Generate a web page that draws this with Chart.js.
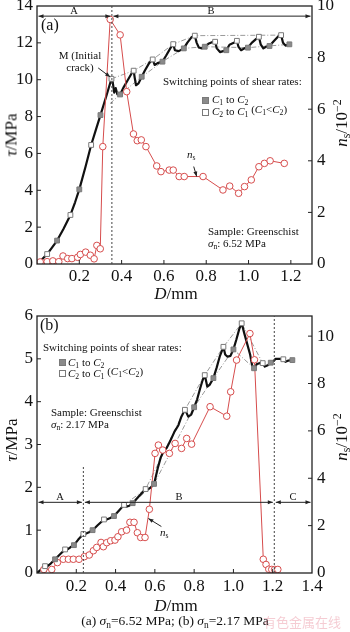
<!DOCTYPE html>
<html>
<head>
<meta charset="utf-8">
<script src="https://cdn.jsdelivr.net/npm/chart.js@4"></script>
<style>
  body { margin: 0; background: #fff; }
  #wrap { position: relative; width: 350px; height: 632px; overflow: hidden;
          font-family: "Liberation Serif", serif; color: #111; }
  canvas { position: absolute; left: 0; }
  .t { position: absolute; white-space: nowrap; line-height: 1; }
  .cc { transform: translate(-50%, -50%); }
  .rot { transform: translate(-50%, -50%) rotate(-90deg); }
  sub { font-size: 70%; vertical-align: -0.28em; line-height: 0; }
  sup { font-size: 70%; vertical-align: 0.5em; line-height: 0; }
  .sq { position: absolute; width: 5px; height: 5px; border: 1px solid #7a7a7a; }
</style>
</head>
<body>
<div id="wrap">
  <canvas id="chartA" width="350" height="300" style="top:0"></canvas>
  <canvas id="chartB" width="350" height="312" style="top:300px"></canvas>

  <!-- panel (a) text -->
  <div class="t" style="left:41px;top:17px;font-size:16px">(a)</div>
  <div class="t" style="left:80px;top:50px;font-size:11px;line-height:11.5px;text-align:center;transform:translateX(-50%)">M (Initial<br>crack)</div>
  <div class="t" style="left:163px;top:76px;font-size:11px">Switching points of shear rates:</div>
  <div class="sq" style="left:202px;top:97px;background:#8a8a8a"></div>
  <div class="t" style="left:212px;top:94px;font-size:11px"><i>C</i><sub>1</sub> to <i>C</i><sub>2</sub></div>
  <div class="sq" style="left:202px;top:109px;background:#fff"></div>
  <div class="t" style="left:212px;top:106px;font-size:11px"><i>C</i><sub>2</sub> to <i>C</i><sub>1</sub> <span style="position:relative;top:-2px">(<i>C</i><sub>1</sub>&lt;<i>C</i><sub>2</sub>)</span></div>
  <div class="t" style="left:187px;top:149px;font-size:11px"><i>n</i><sub>s</sub></div>
  <div class="t" style="left:208px;top:226px;font-size:11px">Sample: Greenschist</div>
  <div class="t" style="left:208px;top:238px;font-size:11px"><i>σ</i><sub>n</sub>: 6.52 MPa</div>
  <div class="t cc" style="left:74px;top:11px;font-size:10.5px">A</div>
  <div class="t cc" style="left:211px;top:11px;font-size:10.5px">B</div>
  <div class="t cc" style="left:176px;top:293px;font-size:17px"><i>D</i>/mm</div>
  <div class="t rot" style="left:11px;top:135px;font-size:17px"><i>τ</i>/MPa</div>
  <div class="t rot" style="left:341px;top:123px;font-size:17px"><i>n</i><sub>s</sub>/10<sup>−2</sup></div>

  <!-- panel (b) text -->
  <div class="t" style="left:40px;top:317px;font-size:16px">(b)</div>
  <div class="t" style="left:43px;top:342px;font-size:11px">Switching points of shear rates:</div>
  <div class="sq" style="left:59px;top:359px;background:#8a8a8a"></div>
  <div class="t" style="left:68px;top:357px;font-size:11px"><i>C</i><sub>1</sub> to <i>C</i><sub>2</sub></div>
  <div class="sq" style="left:59px;top:370px;background:#fff"></div>
  <div class="t" style="left:68px;top:368px;font-size:11px"><i>C</i><sub>2</sub> to <i>C</i><sub>1</sub> <span style="position:relative;top:-2px">(<i>C</i><sub>1</sub>&lt;<i>C</i><sub>2</sub>)</span></div>
  <div class="t" style="left:51px;top:407px;font-size:11px">Sample: Greenschist</div>
  <div class="t" style="left:51px;top:419px;font-size:11px"><i>σ</i><sub>n</sub>: 2.17 MPa</div>
  <div class="t" style="left:160px;top:527px;font-size:11px"><i>n</i><sub>s</sub></div>
  <div class="t cc" style="left:60px;top:497px;font-size:10.5px">A</div>
  <div class="t cc" style="left:179px;top:497px;font-size:10.5px">B</div>
  <div class="t cc" style="left:293px;top:497px;font-size:10.5px">C</div>
  <div class="t cc" style="left:176px;top:605px;font-size:17px"><i>D</i>/mm</div>
  <div class="t rot" style="left:11px;top:440px;font-size:17px"><i>τ</i>/MPa</div>
  <div class="t rot" style="left:341px;top:437px;font-size:17px"><i>n</i><sub>s</sub>/10<sup>−2</sup></div>

  <div class="t cc" style="left:175px;top:621px;font-size:13.5px">(a) <i>σ</i><sub>n</sub>=6.52 MPa; (b) <i>σ</i><sub>n</sub>=2.17 MPa</div>
  <div class="t" style="left:263px;top:615px;font-size:13px;color:rgba(225,110,130,0.35);font-family:'Noto Sans CJK SC'">有色金属在线</div>
</div>

<script>
// ---- panel (a): sigma_n = 6.52 MPa ----
const tauD_a = [0, 0.02, 0.048, 0.07, 0.095, 0.125, 0.158, 0.18, 0.2, 0.23,
  0.256, 0.28, 0.3, 0.33, 0.352, 0.357, 0.365, 0.372, 0.38, 0.393,
  0.41, 0.43, 0.445, 0.457, 0.462, 0.468, 0.48, 0.495, 0.51, 0.53,
  0.547, 0.556, 0.57, 0.593, 0.61, 0.63, 0.644, 0.652, 0.67, 0.694,
  0.71, 0.73, 0.746, 0.755, 0.765, 0.78, 0.793, 0.81, 0.83, 0.842,
  0.85, 0.865, 0.88, 0.895, 0.91, 0.93, 0.945, 0.952, 0.965, 0.98,
  0.997, 1.015, 1.035, 1.049, 1.058, 1.07, 1.085, 1.099, 1.12, 1.14,
  1.154, 1.163, 1.175, 1.193];
const tauV_a = [0, 0.2, 0.54, 0.88, 1.27, 1.9, 2.66, 3.35, 4.05, 5.3,
  6.46, 7.35, 8.08, 9.2, 10.05, 9.95, 9.3, 9.55, 9.2, 9.2,
  9.6, 10.0, 10.3, 10.49, 10.1, 9.7, 9.8, 10.16, 10.5, 10.9,
  11.1, 10.8, 10.9, 10.98, 11.3, 11.7, 11.93, 11.6, 11.55, 11.7,
  12.0, 12.3, 12.39, 12.0, 11.75, 11.7, 11.79, 11.95, 12.05, 12.06,
  11.7, 11.5, 11.55, 11.6, 11.9, 12.0, 12.11, 11.8, 11.6, 11.7,
  11.74, 12.0, 12.2, 12.33, 11.9, 11.7, 11.8, 11.83, 12.1, 12.35,
  12.42, 12.0, 11.85, 11.92];
// switching points C1 -> C2 (grey) and C2 -> C1 (white)
const c12D_a = [0.095, 0.2, 0.3, 0.393, 0.495, 0.593, 0.694, 0.793, 0.895, 0.997, 1.099, 1.193];
const c12T_a = [1.27, 4.05, 8.08, 9.2, 10.16, 10.98, 11.7, 11.79, 11.6, 11.74, 11.83, 11.92];
const c21D_a = [0.048, 0.158, 0.256, 0.352, 0.457, 0.547, 0.644, 0.746, 0.842, 0.945, 1.049, 1.154];
const c21T_a = [0.54, 2.66, 6.46, 10.05, 10.49, 11.1, 11.93, 12.39, 12.06, 12.11, 12.33, 12.42];
// dash-dot envelopes
const upD_a = [0.352, 0.457, 0.547, 0.644, 0.746, 1.154];
const upT_a = [10.05, 10.49, 11.1, 11.93, 12.39, 12.42];
const loD_a = [0.345, 0.393, 0.495, 0.593, 0.694, 0.793, 0.997, 1.193];
const loT_a = [8.7, 9.2, 10.16, 10.98, 11.7, 11.79, 11.74, 11.92];
// n_s (x 10^-2)
const nsD_a = [0.015, 0.048, 0.075, 0.103, 0.123, 0.145, 0.165, 0.192, 0.205, 0.23,
  0.252, 0.27, 0.283, 0.299, 0.311, 0.346, 0.393, 0.424, 0.456, 0.474,
  0.493, 0.515, 0.566, 0.586, 0.625, 0.644, 0.672, 0.696, 0.785, 0.879,
  0.911, 0.953, 0.981, 1.013, 1.049, 1.075, 1.102, 1.169];
const nsV_a = [0.08, 0.09, 0.12, 0.09, 0.31, 0.21, 0.21, 0.26, 0.37, 0.46,
  0.34, 0.2, 0.72, 0.59, 4.55, 9.48, 8.88, 6.68, 5.04, 4.78,
  4.81, 4.55, 3.80, 3.58, 3.64, 3.64, 3.39, 3.39, 3.39, 2.87,
  3.02, 2.74, 3.0, 3.26, 3.77, 3.90, 4.0, 3.90];

// ---- panel (b): sigma_n = 2.17 MPa ----
const tauD_b = [0, 0.041, 0.05, 0.07, 0.092, 0.12, 0.143, 0.155, 0.17, 0.188,
  0.21, 0.236, 0.25, 0.265, 0.283, 0.31, 0.341, 0.355, 0.37, 0.392,
  0.42, 0.443, 0.455, 0.47, 0.487, 0.52, 0.553, 0.565, 0.58, 0.596,
  0.615, 0.63, 0.645, 0.66, 0.68, 0.70, 0.72, 0.735, 0.753, 0.76,
  0.77, 0.785, 0.80, 0.815, 0.83, 0.843, 0.854, 0.86, 0.867, 0.88,
  0.898, 0.915, 0.93, 0.949, 0.958, 0.97, 0.985, 1.0, 1.015, 1.03,
  1.042, 1.055, 1.07, 1.085, 1.095, 1.105, 1.12, 1.135, 1.149, 1.16,
  1.175, 1.19, 1.205, 1.215, 1.235, 1.254, 1.265, 1.28, 1.30];
const tauV_b = [0, 0.16, 0.15, 0.22, 0.32, 0.45, 0.55, 0.55, 0.6, 0.65,
  0.78, 0.91, 0.92, 0.95, 1.0, 1.12, 1.25, 1.25, 1.28, 1.33,
  1.47, 1.59, 1.55, 1.57, 1.63, 1.8, 1.96, 1.95, 2.0, 2.08,
  2.45, 2.7, 2.85, 2.92, 3.1, 3.3, 3.45, 3.65, 3.81, 3.75,
  3.65, 3.7, 3.87, 4.05, 4.3, 4.5, 4.62, 4.5, 4.35, 4.4,
  4.55, 4.8, 5.05, 5.28, 5.1, 5.05, 5.07, 5.22, 5.45, 5.7,
  5.83, 5.6, 5.35, 5.1, 4.85, 4.78, 4.88, 4.9, 4.9, 4.82,
  4.85, 4.91, 4.95, 5.0, 5.0, 4.99, 4.93, 4.96, 4.97];
const c12D_b = [0.092, 0.188, 0.283, 0.392, 0.487, 0.596, 0.80, 0.898, 1.0, 1.105, 1.19, 1.30];
const c12T_b = [0.32, 0.65, 1.0, 1.33, 1.63, 2.08, 3.87, 4.55, 5.22, 4.78, 4.91, 4.97];
const c21D_b = [0.041, 0.143, 0.236, 0.341, 0.443, 0.553, 0.753, 0.854, 0.949, 1.042, 1.149, 1.254];
const c21T_b = [0.16, 0.55, 0.91, 1.25, 1.59, 1.96, 3.81, 4.62, 5.28, 5.83, 4.9, 4.99];
const upD_b = [0.443, 0.553, 0.753, 0.854, 0.949, 1.042, 1.149];
const upT_b = [1.59, 1.96, 3.81, 4.62, 5.28, 5.83, 4.9];
const loD_b = [0.487, 0.596, 0.80, 0.898, 1.0, 1.105];
const loT_b = [1.63, 2.08, 3.87, 4.55, 5.22, 4.78];
const nsD_b = [0.035, 0.075, 0.104, 0.134, 0.16, 0.185, 0.214, 0.241, 0.266, 0.287,
  0.304, 0.326, 0.338, 0.355, 0.375, 0.397, 0.412, 0.431, 0.456, 0.473,
  0.494, 0.511, 0.528, 0.55, 0.572, 0.601, 0.618, 0.64, 0.674, 0.703,
  0.736, 0.762, 0.787, 0.881, 0.966, 0.986, 1.016, 1.084, 1.107, 1.152,
  1.166, 1.18, 1.195, 1.21, 1.226];
const nsV_b = [0.15, 0.15, 0.44, 0.58, 0.58, 0.58, 0.58, 0.69, 0.76, 0.94,
  1.08, 1.29, 1.11, 1.28, 1.36, 1.39, 1.53, 1.74, 1.81, 2.14,
  2.14, 1.70, 1.50, 1.50, 2.69, 5.05, 5.40, 5.19, 5.05, 5.47,
  5.26, 5.68, 5.44, 7.02, 6.62, 7.65, 8.99, 10.11, 9.0, 0.58,
  0.36, 0.16, 0.15, 0.15, 0.15];

const RED = 'rgb(214, 76, 76)';
const tickFont = { family: 'Liberation Serif', size: 17 };

function pts(xs, ys) {
  return xs.map((v, i) => ({ x: v, y: ys[i] }));
}

function onStep(v, step) {
  const r = v / step;
  return Math.abs(r - Math.round(r)) < 1e-6;
}

//frame, inside tick marks, stage arrows, dotted dividers and pointer arrows
const extras = {
  id: 'extras',
  afterDraw(chart, args, o) {
    const ctx = chart.ctx, a = chart.chartArea;
    const x = chart.scales.x, y = chart.scales.y;
    ctx.save();
    ctx.strokeStyle = '#222';
    ctx.fillStyle = '#222';
    ctx.lineWidth = 1;
    // inward ticks
    for (const id of ['x', 'y', 'y2']) {
      const s = chart.scales[id];
      s.ticks.forEach(t => {
        if (t.value <= s.min + 1e-9 || t.value >= s.max - 1e-9 || !onStep(t.value, o.steps[id])) return;
        const p = s.getPixelForValue(t.value);
        ctx.beginPath();
        if (id === 'x') { ctx.moveTo(p, a.bottom); ctx.lineTo(p, a.bottom - 4); }
        else if (id === 'y') { ctx.moveTo(a.left, p); ctx.lineTo(a.left + 4, p); }
        else { ctx.moveTo(a.right, p); ctx.lineTo(a.right - 4, p); }
        ctx.stroke();
      });
    }
    ctx.lineWidth = 1.3;
    ctx.strokeRect(a.left, a.top, a.right - a.left, a.bottom - a.top);

    // dotted dividers between stages
    ctx.lineWidth = 1;
    ctx.strokeStyle = '#444';
    ctx.setLineDash([2, 2]);
    o.dividers.forEach(d => {
      const px = x.getPixelForValue(d.at);
      ctx.beginPath();
      ctx.moveTo(px, a.bottom);
      ctx.lineTo(px, d.top == null ? a.top : y.getPixelForValue(d.top));
      ctx.stroke();
    });
    ctx.setLineDash([]);
    ctx.strokeStyle = '#222';

    // stage arrows A / B / C
    const ly = y.getPixelForValue(o.stageLevel);
    const head = (hx, hy, dir) => {
      ctx.beginPath();
      ctx.moveTo(hx, hy);
      ctx.lineTo(hx - dir * 5, hy - 2);
      ctx.lineTo(hx - dir * 5, hy + 2);
      ctx.closePath();
      ctx.fill();
    };
    for (let i = 0; i < o.stageEdges.length - 1; i++) {
      const x0 = x.getPixelForValue(o.stageEdges[i]) + 1.5;
      const x1 = x.getPixelForValue(o.stageEdges[i + 1]) - 1.5;
      ctx.beginPath();
      ctx.moveTo(x0, ly);
      ctx.lineTo(x1, ly);
      ctx.stroke();
      head(x0, ly, -1);
      head(x1, ly, 1);
    }

    // label pointers
    o.pointers.forEach(p => {
      const tx = x.getPixelForValue(p.x), ty = chart.scales[p.axis].getPixelForValue(p.y);
      const sx = tx + p.dx, sy = ty + p.dy;
      const ang = Math.atan2(ty - sy, tx - sx);
      ctx.beginPath();
      ctx.moveTo(sx, sy);
      ctx.lineTo(tx, ty);
      ctx.stroke();
      ctx.beginPath();
      ctx.moveTo(tx, ty);
      ctx.lineTo(tx - 5 * Math.cos(ang) + 2 * Math.sin(ang), ty - 5 * Math.sin(ang) - 2 * Math.cos(ang));
      ctx.lineTo(tx - 5 * Math.cos(ang) - 2 * Math.sin(ang), ty - 5 * Math.sin(ang) + 2 * Math.cos(ang));
      ctx.closePath();
      ctx.fill();
    });
    ctx.restore();
  }
};

function buildDatasets(p) {
  return [
    { data: pts(p.c21D, p.c21T), yAxisID: 'y', pointStyle: 'rect', pointRadius: 3.4,
      backgroundColor: '#fff', borderColor: '#7a7a7a', borderWidth: 1 },
    { data: pts(p.c12D, p.c12T), yAxisID: 'y', pointStyle: 'rect', pointRadius: 3.4,
      backgroundColor: '#8a8a8a', borderColor: '#7a7a7a', borderWidth: 1 },
    { data: pts(p.nsD, p.nsV), yAxisID: 'y2', showLine: true, borderColor: RED, borderWidth: 1,
      pointRadius: 3.3, pointBorderWidth: 1, pointBackgroundColor: '#fff', pointBorderColor: RED },
    { data: pts(p.tauD, p.tauV), yAxisID: 'y', showLine: true, borderColor: '#111',
      borderWidth: 2.2, pointRadius: 0, borderJoinStyle: 'round' },
    { data: pts(p.upD, p.upT), yAxisID: 'y', showLine: true, borderColor: '#9a9a9a',
      borderWidth: 1, borderDash: [5, 2, 1, 2], pointRadius: 0 },
    { data: pts(p.loD, p.loT), yAxisID: 'y', showLine: true, borderColor: '#9a9a9a',
      borderWidth: 1, borderDash: [5, 2, 1, 2], pointRadius: 0 }
  ];
}

function drawPanel(canvasId, p) {
  const axisTicks = (step, fmt, pad) => ({
    stepSize: step, autoSkip: false, includeBounds: false, padding: pad, color: '#111', font: tickFont,
    callback: v => (v > 1e-9 || fmt.zero) && onStep(v, step) ? fmt.f(v) : ''
  });
  const noPad = s => { s.paddingTop = 0; s.paddingBottom = 0; s.paddingLeft = 0; s.paddingRight = 0; };
  new Chart(document.getElementById(canvasId), {
    type: 'scatter',
    data: { datasets: buildDatasets(p) },
    options: {
      responsive: false,
      animation: false,
      events: [],
      layout: { padding: { top: p.padTop, left: 0, right: 0, bottom: 0 } },
      plugins: {
        legend: { display: false },
        tooltip: { enabled: false },
        extras: { steps: { x: 0.2, y: p.yStep, y2: 2 }, dividers: p.dividers,
                  stageLevel: p.stageLevel, stageEdges: p.stageEdges, pointers: p.pointers }
      },
      scales: {
        x: { type: 'linear', min: 0, max: p.xMax, border: { display: false },
             grid: { display: false, drawTicks: false },
             ticks: axisTicks(0.2, { zero: false, f: v => v.toFixed(1) }, p.xPad),
             afterFit: s => { s.height = p.xH; noPad(s); } },
        y: { position: 'left', min: 0, max: p.yMax, border: { display: false },
             grid: { display: false, drawTicks: false },
             ticks: axisTicks(p.yStep, { zero: true, f: v => String(Math.round(v)) }, 4),
             afterFit: s => { s.width = 37; noPad(s); } },
        y2: { position: 'right', min: 0, max: p.y2Max, border: { display: false },
              grid: { display: false, drawTicks: false },
              ticks: axisTicks(2, { zero: true, f: v => String(Math.round(v)) }, 5),
              afterFit: s => { s.width = 38; noPad(s); } }
      }
    },
    plugins: [extras]
  });
}

drawPanel('chartA', {
  tauD: tauD_a, tauV: tauV_a, c12D: c12D_a, c12T: c12T_a, c21D: c21D_a, c21T: c21T_a,
  upD: upD_a, upT: upT_a, loD: loD_a, loT: loT_a, nsD: nsD_a, nsV: nsV_a,
  padTop: 6, xH: 36, xPad: 2, xMax: 1.3, yMax: 14, yStep: 2, y2Max: 10,
  dividers: [{ at: 0.354 }],
  stageLevel: 13.45, stageEdges: [0, 0.354, 1.3],
  pointers: [{ axis: 'y', x: 0.346, y: 10.15, dx: -12, dy: -9 },
             { axis: 'y2', x: 0.755, y: 3.39, dx: -3, dy: -10 }]
});

drawPanel('chartB', {
  tauD: tauD_b, tauV: tauV_b, c12D: c12D_b, c12T: c12T_b, c21D: c21D_b, c21T: c21T_b,
  upD: upD_b, upT: upT_b, loD: loD_b, loT: loT_b, nsD: nsD_b, nsV: nsV_b,
  padTop: 16, xH: 39, xPad: 3, xMax: 1.4, yMax: 6, yStep: 1, y2Max: 10.85,
  dividers: [{ at: 0.236, top: 2.52 }, { at: 1.208 }],
  stageLevel: 1.65, stageEdges: [0, 0.236, 1.208, 1.4],
  pointers: [{ axis: 'y2', x: 0.567, y: 2.3, dx: 13, dy: 8 }]
});
</script>
</body>
</html>
